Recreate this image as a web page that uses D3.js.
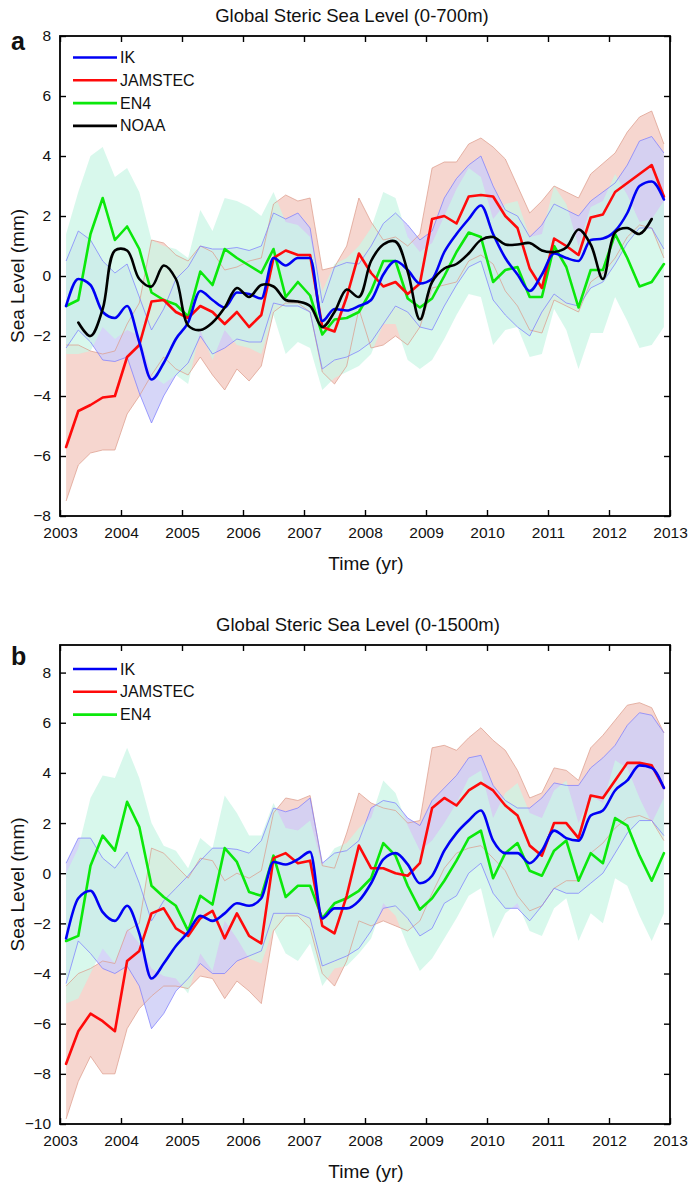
<!DOCTYPE html>
<html><head><meta charset="utf-8">
<script src="https://cdn.jsdelivr.net/npm/d3@7"></script>
<style>
body{margin:0;background:#fff}
svg{display:block}
text{font-family:"Liberation Sans",Arial,Helvetica,sans-serif;fill:#111}
</style>
</head><body>
<svg id="chart" width="690" height="1182"></svg>
<script>
// ---------- data ----------
const times = [2003.1,2003.3,2003.5,2003.7,2003.9,2004.1,2004.3,2004.5,2004.7,2004.9,
  2005.1,2005.3,2005.5,2005.7,2005.9,2006.1,2006.3,2006.5,2006.7,2006.9,
  2007.1,2007.3,2007.5,2007.7,2007.9,2008.1,2008.3,2008.5,2008.7,2008.9,
  2009.1,2009.3,2009.5,2009.7,2009.9,2010.1,2010.3,2010.5,2010.7,2010.9,
  2011.1,2011.3,2011.5,2011.7,2011.9,2012.1,2012.3,2012.5,2012.7,2012.9];
const yearTicks = [2003,2004,2005,2006,2007,2008,2009,2010,2011,2012,2013];
const yTicksA = [-8,-6,-4,-2,0,2,4,6,8];
const yTicksB = [-10,-8,-6,-4,-2,0,2,4,6,8];
const seriesNamesA = ["IK","JAMSTEC","EN4","NOAA"];
const seriesNamesB = ["IK","JAMSTEC","EN4"];

// Panel a (0-700m)
const ikA = [-1.0,-0.1,-0.3,-1.2,-1.4,-1.0,-2.2,-3.45,-2.9,-2.1,-1.55,-0.5,-0.8,-1.05,-0.55,-0.6,-0.75,0.6,0.35,0.6,0.6,-1.5,-1.1,-1.15,-1.0,
  -0.8,0.05,0.5,0.2,-0.25,-0.1,0.8,1.4,1.9,2.35,1.4,0.6,0.05,-0.5,0.05,0.75,0.6,0.5,1.2,1.25,1.5,2.1,3.0,3.15,2.55];
const ikAHi = [0.5,1.5,1.2,0.5,0.1,0.4,-0.7,-1.8,-1.1,-0.1,0.3,1.0,0.9,0.9,0.95,0.85,1.0,2.1,1.9,2.1,1.6,-0.9,0.3,0.45,0.4,
  1.0,1.75,2.1,1.7,1.2,1.5,2.6,3.25,3.7,4.0,3.0,2.2,2.0,1.3,1.7,2.4,2.2,2.0,2.5,2.8,3.1,3.7,4.5,4.65,4.1];
const ikALo = [-2.4,-1.8,-2.2,-2.8,-2.85,-2.7,-3.9,-4.9,-4.0,-3.3,-2.9,-2.0,-2.6,-2.4,-2.1,-2.2,-2.2,-0.9,-1.0,-1.0,-1.2,-3.1,-2.8,-2.7,-2.5,
  -2.2,-1.6,-1.0,-1.2,-1.7,-1.8,-1.0,-0.3,0.3,0.5,-0.8,-1.3,-1.7,-2.0,-1.2,-0.6,-0.9,-1.0,-0.4,-0.2,0.4,1.1,1.6,1.6,0.9];
const jamA = [-5.7,-4.5,-4.3,-4.05,-4.0,-2.7,-2.3,-0.85,-0.8,-1.2,-1.4,-1.0,-1.2,-1.6,-1.2,-1.7,-1.3,0.6,0.85,0.7,0.7,-1.7,-1.85,-0.7,0.75,
  0.1,-0.35,-0.2,-0.6,-0.25,1.9,2.0,1.75,2.65,2.7,2.65,2.0,1.6,0.25,-0.4,1.25,1.0,0.7,1.95,2.05,2.8,3.1,3.4,3.7,2.65];
const jamAHi = [-2.3,-2.3,-2.5,-2.6,-2.5,-1.6,-0.9,1.2,1.1,0.7,0.5,1.0,0.8,0.2,0.3,0.5,0.6,2.4,2.7,2.5,2.6,0.2,0.3,1.0,2.6,
  1.8,1.2,1.3,1.0,1.4,3.6,3.8,3.8,4.4,4.6,4.3,3.9,3.0,2.1,2.5,3.0,2.8,2.6,3.4,3.75,4.1,4.8,5.3,5.5,4.4];
const jamALo = [-7.5,-6.3,-5.9,-5.8,-5.8,-4.6,-4.0,-3.3,-2.7,-3.1,-3.3,-2.7,-3.3,-3.8,-3.1,-3.5,-3.0,-1.2,-0.9,-0.9,-1.2,-3.2,-3.6,-3.0,-1.1,
  -2.4,-2.3,-2.0,-2.3,-1.7,-0.4,-0.3,-0.2,0.5,0.7,0.4,-0.5,-1.0,-1.8,-1.9,-0.8,-1.0,-1.2,-0.2,0.1,0.6,1.3,1.7,1.6,0.6];
const en4A = [-1.0,-0.8,1.4,2.6,1.2,1.65,0.9,-0.55,-0.8,-0.95,-1.35,0.15,-0.3,0.9,0.6,0.35,0.1,0.9,-0.7,-0.2,-0.65,-1.95,-1.45,-1.4,-1.2,
  -0.5,0.5,0.5,-0.75,-1.05,-0.75,0.0,0.8,1.45,1.3,-0.2,0.2,0.3,-0.7,-0.7,1.0,0.3,-1.05,0.2,0.2,1.4,0.6,-0.35,-0.2,0.4];
const en4AHi = [1.4,2.8,4.0,4.3,3.3,3.6,2.8,1.2,1.0,0.9,0.6,2.2,1.5,2.6,2.5,2.3,2.0,2.8,1.8,1.7,1.3,-0.5,0.4,0.6,1.0,
  1.6,2.8,2.6,1.3,0.8,1.1,2.0,2.9,3.6,3.3,1.9,2.4,2.5,1.3,1.4,3.0,2.4,1.0,2.3,2.5,3.4,2.7,1.8,1.9,2.5];
const en4ALo = [-2.6,-2.6,-2.5,-1.7,-2.1,-1.8,-2.0,-3.3,-3.6,-3.3,-3.6,-1.8,-2.8,-1.8,-2.3,-2.4,-2.6,-1.3,-2.6,-2.2,-2.4,-3.8,-3.4,-3.2,-3.0,
  -2.6,-1.6,-1.6,-2.8,-3.1,-2.8,-2.1,-1.3,-0.6,-0.7,-2.3,-1.8,-1.7,-2.7,-2.6,-1.1,-1.8,-3.1,-1.9,-1.9,-0.7,-1.5,-2.4,-2.3,-1.7];
const noaaA = [null,-1.55,-2.0,-1.1,0.85,0.85,-0.1,-0.35,0.35,-0.1,-1.65,-1.8,-1.55,-1.05,-0.4,-0.7,-0.3,-0.35,-0.8,-0.85,-1.0,-1.7,-1.2,-0.45,-0.7,
  0.5,1.05,1.15,0.15,-1.45,-0.2,0.25,0.4,0.75,1.2,1.3,1.05,1.05,1.1,0.85,0.8,0.95,1.55,1.05,-0.1,1.45,1.6,1.4,1.9,null];

// Panel b (0-1500m)
const ikB = [-2.6,-1.0,-0.7,-1.55,-1.9,-1.3,-2.4,-4.2,-3.6,-2.9,-2.35,-1.7,-1.9,-1.6,-1.2,-1.3,-1.0,0.45,0.35,0.55,0.85,-1.8,-1.4,-1.4,-1.1,
  -0.4,0.55,0.8,0.35,-0.4,-0.1,0.9,1.6,2.1,2.5,1.3,0.8,0.8,0.4,0.9,1.7,1.4,1.3,2.3,2.5,3.3,3.7,4.3,4.2,3.4];
const ikBHi = [0.4,1.4,1.4,0.6,0.2,0.85,-0.4,-1.9,-1.1,-0.6,-0.1,0.5,1.0,1.0,0.95,0.8,1.3,2.6,2.45,2.6,3.0,0.4,0.8,0.9,1.3,
  2.6,2.9,2.8,2.2,1.9,2.9,3.4,3.9,4.6,4.7,3.5,2.9,2.6,2.6,3.0,3.6,3.5,3.5,4.2,4.6,5.1,5.9,6.4,6.3,5.6];
const ikBLo = [-4.4,-2.7,-3.2,-3.8,-4.0,-3.7,-4.5,-6.2,-5.6,-4.7,-4.2,-3.6,-4.0,-4.0,-3.5,-3.3,-3.1,-1.6,-1.6,-1.6,-1.8,-3.7,-3.5,-3.3,-3.0,
  -2.3,-1.4,-1.3,-1.8,-2.5,-2.2,-1.2,-0.9,0.0,0.4,-0.8,-1.4,-1.4,-1.9,-1.3,-0.6,-0.8,-0.8,-0.4,0.0,0.8,1.6,2.1,2.1,1.5];
const jamB = [-7.6,-6.3,-5.6,-5.9,-6.3,-3.5,-3.1,-1.6,-1.4,-2.2,-2.5,-1.8,-1.5,-2.6,-1.6,-2.5,-2.8,0.6,0.8,0.4,0.5,-2.1,-2.4,-0.9,1.1,
  0.2,0.2,0.0,-0.1,0.4,2.6,3.0,2.7,3.3,3.6,3.3,2.7,2.3,1.1,0.7,2.0,2.0,1.4,3.1,3.0,3.7,4.4,4.4,4.3,3.4];
const jamBHi = [-4.5,-4.0,-3.8,-3.5,-3.6,-2.3,-2.0,1.0,0.8,0.3,-0.2,0.6,0.5,-0.3,0.0,-0.2,0.1,2.4,3.0,2.9,3.1,0.3,0.2,1.6,3.2,
  2.8,2.6,2.5,2.0,2.1,5.0,5.1,4.9,5.4,5.8,5.3,4.9,4.1,3.0,3.2,4.2,4.1,3.7,5.0,5.5,6.1,6.7,6.8,6.6,5.6];
const jamBLo = [-9.8,-8.3,-7.3,-8.0,-8.0,-6.2,-5.4,-4.9,-4.5,-4.5,-4.6,-4.1,-4.2,-5.0,-4.3,-4.7,-5.2,-2.3,-1.7,-1.7,-2.2,-4.0,-4.5,-3.5,-1.9,
  -2.1,-1.9,-2.1,-2.3,-1.9,-0.8,0.2,0.8,1.0,1.1,0.6,0.1,-0.9,-1.5,-1.3,-0.6,-0.3,-0.3,0.8,1.2,1.8,2.2,2.3,2.1,1.3];
const en4B = [-2.7,-2.5,0.3,1.5,0.9,2.85,1.85,-0.5,-0.95,-1.3,-2.3,-0.9,-1.25,1.0,0.45,-0.75,-0.9,0.7,-0.95,-0.5,-0.5,-1.8,-1.2,-1.0,-0.7,
  -0.2,1.2,0.7,-0.5,-1.45,-1.0,-0.3,0.5,1.4,1.7,-0.2,0.8,1.2,0.1,-0.1,0.9,1.3,-0.3,0.8,0.4,2.2,1.9,0.7,-0.3,0.8];
const en4BHi = [0.0,1.0,3.0,3.9,3.8,5.0,3.8,2.0,1.1,0.9,0.2,1.4,1.0,3.1,2.4,1.5,1.5,2.8,1.8,1.7,2.1,0.3,1.0,1.2,1.8,
  2.2,3.7,3.2,1.9,0.9,1.3,2.0,2.8,3.8,4.1,2.2,3.2,3.6,2.4,2.2,3.3,3.7,2.0,3.1,2.8,4.5,4.2,3.0,2.0,3.0];
const en4BLo = [-5.2,-5.0,-4.0,-3.0,-3.6,-2.2,-2.8,-3.8,-4.1,-4.2,-4.8,-3.2,-3.9,-1.9,-2.6,-3.4,-3.6,-2.2,-3.2,-3.5,-2.8,-4.5,-3.8,-3.7,-3.2,
  -2.6,-1.2,-1.7,-2.9,-3.9,-3.4,-2.6,-1.8,-0.9,-0.6,-2.6,-1.6,-1.2,-2.3,-2.5,-1.4,-1.0,-2.7,-1.6,-2.0,-0.2,-0.5,-1.7,-2.7,-1.6];

// ---------- styles ----------
const lineColor = {IK:"#0000f5", JAMSTEC:"#ff0a0a", EN4:"#0be80b", NOAA:"#000000"};
const bandFill = {IK:"#cfcff7", JAMSTEC:"#f5d2ca", EN4:"#cbf6e6"};
const bandOpacity = {IK:0.85, JAMSTEC:0.9, EN4:0.75};
const bandEdge = {IK:"#7b7bff", JAMSTEC:"#dc9a8a"};
const lineCurve = {IK: d3.curveMonotoneX, JAMSTEC: d3.curveLinear, EN4: d3.curveLinear, NOAA: d3.curveCatmullRom.alpha(0.5)};

const svg = d3.select("#chart");
const defs = svg.append("defs");
const x = d3.scaleLinear().domain([2003, 2013]).range([60, 670]);

function drawPanel(p) {
  const y = d3.scaleLinear().domain(p.yDomain).range([p.bottom, p.top]);
  const g = svg.append("g");
  const clipId = "clip-" + p.tag;
  defs.append("clipPath").attr("id", clipId).append("rect")
    .attr("x", 60).attr("y", p.top).attr("width", 610).attr("height", p.bottom - p.top);
  const plot = g.append("g").attr("clip-path", `url(#${clipId})`);

  const area = d3.area().x(d => x(d.t)).y0(d => y(d.lo)).y1(d => y(d.hi));
  const edge = d3.line().x(d => x(d.t)).y(d => y(d.v));

  const bandOrder = ["JAMSTEC", "IK", "EN4"];
  bandOrder.forEach(n => {
    const s = p.series[n];
    const data = times.map((t, i) => ({t, lo: s.lo[i], hi: s.hi[i]}));
    plot.append("path").datum(data).attr("d", area)
      .attr("fill", bandFill[n]).attr("fill-opacity", bandOpacity[n]).attr("stroke", "none");
  });
  ["JAMSTEC", "IK"].forEach(n => {
    const s = p.series[n];
    [s.lo, s.hi].forEach(arr => {
      plot.append("path").datum(times.map((t, i) => ({t, v: arr[i]}))).attr("d", edge)
        .attr("fill", "none").attr("stroke", bandEdge[n]).attr("stroke-width", 0.9).attr("stroke-opacity", 0.8);
    });
  });
  const lineOrder = ["EN4", "JAMSTEC", "IK", "NOAA"].filter(n => p.series[n]);
  lineOrder.forEach(n => {
    const s = p.series[n];
    const line = d3.line().defined(d => d.v != null).x(d => x(d.t)).y(d => y(d.v)).curve(lineCurve[n]);
    plot.append("path").datum(times.map((t, i) => ({t, v: s.v[i]}))).attr("d", line)
      .attr("fill", "none").attr("stroke", lineColor[n]).attr("stroke-width", 2.6)
      .attr("stroke-linejoin", "round").attr("stroke-linecap", "round");
  });

  // axes (ticks inside, matlab style)
  const axB = g.append("g").attr("transform", `translate(0,${p.bottom})`)
    .call(d3.axisBottom(x).tickValues(yearTicks).tickFormat(d3.format("d")).tickSize(-6).tickPadding(11));
  const axT = g.append("g").attr("transform", `translate(0,${p.top})`)
    .call(d3.axisTop(x).tickValues(yearTicks).tickFormat("").tickSize(-6));
  const axL = g.append("g").attr("transform", `translate(60,0)`)
    .call(d3.axisLeft(y).tickValues(p.yTicks).tickFormat(d3.format("d")).tickSize(-6).tickPadding(9));
  const axR = g.append("g").attr("transform", `translate(670,0)`)
    .call(d3.axisRight(y).tickValues(p.yTicks).tickFormat("").tickSize(-6));
  [axB, axT, axL, axR].forEach(a => {
    a.select(".domain").remove();
    a.selectAll(".tick line").attr("stroke", "#000").attr("stroke-width", 1.4);
    a.selectAll(".tick text").attr("font-size", 15.5).attr("fill", "#1a1a1a")
      .attr("font-family", '"Liberation Sans",Arial,Helvetica,sans-serif');
  });

  g.append("rect").attr("x", 60).attr("y", p.top).attr("width", 610).attr("height", p.bottom - p.top)
    .attr("fill", "none").attr("stroke", "#000").attr("stroke-width", 1.8);

  // titles & labels
  g.append("text").attr("x", p.titleX).attr("y", p.top - 14).attr("text-anchor", "middle")
    .attr("font-size", 18.5).text(p.title);
  g.append("text").attr("x", 11).attr("y", p.tagY).attr("font-size", 25).attr("font-weight", "bold").text(p.tag);
  g.append("text").attr("x", 366).attr("y", p.bottom + 54).attr("text-anchor", "middle")
    .attr("font-size", 19).text("Time (yr)");
  g.append("text").attr("transform", `translate(24,${(p.top + p.bottom) / 2}) rotate(-90)`)
    .attr("text-anchor", "middle").attr("font-size", 19).text("Sea Level (mm)");

  // legend
  p.legend.forEach((n, i) => {
    const ly = p.legendY + i * 22.8;
    g.append("line").attr("x1", 73).attr("x2", 117).attr("y1", ly).attr("y2", ly)
      .attr("stroke", lineColor[n]).attr("stroke-width", 2.6);
    g.append("text").attr("x", 120).attr("y", ly + 5.5).attr("font-size", 16).text(n);
  });
}

drawPanel({
  tag: "a", top: 36, bottom: 516, yDomain: [-8, 8], yTicks: yTicksA,
  title: "Global Steric Sea Level (0-700m)", titleX: 352, tagY: 50,
  legendY: 57.5, legend: seriesNamesA,
  series: {
    IK: {v: ikA, lo: ikALo, hi: ikAHi},
    JAMSTEC: {v: jamA, lo: jamALo, hi: jamAHi},
    EN4: {v: en4A, lo: en4ALo, hi: en4AHi},
    NOAA: {v: noaaA}
  }
});
drawPanel({
  tag: "b", top: 645, bottom: 1124, yDomain: [-10, 9.1], yTicks: yTicksB,
  title: "Global Steric Sea Level (0-1500m)", titleX: 358, tagY: 665,
  legendY: 669, legend: seriesNamesB,
  series: {
    IK: {v: ikB, lo: ikBLo, hi: ikBHi},
    JAMSTEC: {v: jamB, lo: jamBLo, hi: jamBHi},
    EN4: {v: en4B, lo: en4BLo, hi: en4BHi}
  }
});
</script>
</body></html>
